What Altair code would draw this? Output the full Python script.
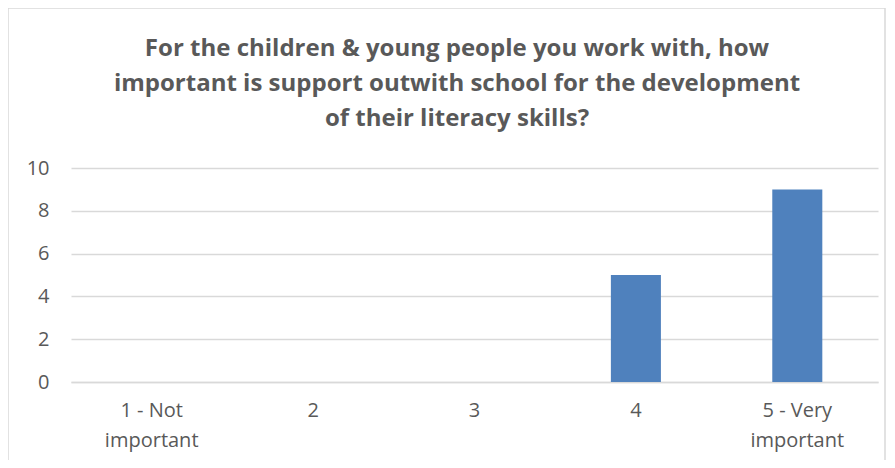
import altair as alt
import pandas as pd

categories = ["1 - Not important", "2", "3", "4", "5 - Very important"]
counts = [0, 0, 0, 5, 9]
title_lines = [
    "For the children & young people you work with, how",
    "important is support outwith school for the development",
    "of their literacy skills?",
]
y_ticks = [0, 2, 4, 6, 8, 10]

df = pd.DataFrame({"category": categories, "count": counts})

W, H = 807, 214
PL, PT, PR, PB = 63, 160, 8, 78

single = pd.DataFrame({"a": [0]})

border = alt.Chart(single).mark_rect(
    fill="transparent", stroke="#D9D9D9", strokeWidth=1.5
).encode(
    x=alt.value(-PL), x2=alt.value(W + PR - 1),
    y=alt.value(-PT), y2=alt.value(H + PB + 20),
)

title = alt.Chart(single).mark_text(
    font="Open Sans", fontSize=24, fontWeight="bold", color="#595959",
    lineHeight=35, align="center", baseline="top",
).encode(
    x=alt.value(386), y=alt.value(-131), text=alt.value(title_lines),
)

bars = alt.Chart(df).mark_bar(color="#4F81BD").encode(
    x=alt.X(
        "category:N",
        sort=categories,
        scale=alt.Scale(paddingInner=0.69, paddingOuter=0.345),
        axis=alt.Axis(
            title=None, labelAngle=0, ticks=False, domainColor="#D9D9D9",
            domainWidth=1.5, labelColor="#595959", labelFontSize=20,
            labelFont="Open Sans", labelPadding=18, labelLineHeight=30,
            labelExpr="split(replace(datum.label, ' important', '|important'), '|')",
        ),
    ),
    y=alt.Y(
        "count:Q",
        scale=alt.Scale(domain=[0, 10]),
        axis=alt.Axis(
            title=None, values=y_ticks, domain=False, ticks=False,
            gridColor="#D9D9D9", gridWidth=1.5, labelColor="#595959",
            labelFontSize=20, labelFont="Open Sans", labelPadding=22,
        ),
    ),
)

chart = alt.layer(border, title, bars).properties(
    width=W, height=H,
    autosize=alt.AutoSizeParams(type="none"),
    padding={"left": PL, "top": PT, "right": PR, "bottom": PB},
).configure_view(stroke=None)

chart.save("out.html", embed_options={"renderer": "svg", "actions": False})
